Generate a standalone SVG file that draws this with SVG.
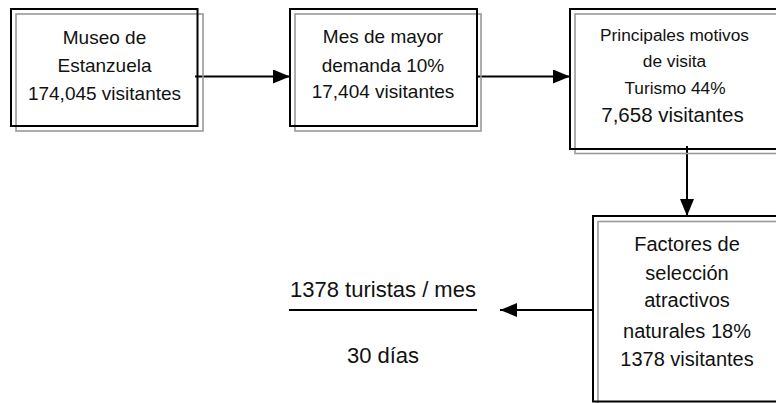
<svg xmlns="http://www.w3.org/2000/svg" width="776" height="403" viewBox="0 0 776 403">
<style>
.bg{fill:#fff}
.sh{fill:none;stroke:#999;stroke-width:1.6}
.fr{fill:none;stroke:#000;stroke-width:2}
.t{font-family:"Liberation Sans",Arial,sans-serif;fill:#111;text-anchor:middle}
.c{stroke:#000;stroke-width:2;fill:none}
</style>
<defs>
<marker id="ah" viewBox="0 0 17 14" refX="17" refY="7" markerWidth="17" markerHeight="14" markerUnits="userSpaceOnUse" orient="auto">
<path d="M0,0 L17,7 L0,14 Z" fill="#000"/>
</marker>
</defs>
<rect class="bg" x="0" y="0" width="776" height="403"/>
<g id="connectors">
<line class="c" x1="195" y1="76.5" x2="290" y2="76.5" marker-end="url(#ah)"/>
<line class="c" x1="476" y1="76.5" x2="570" y2="76.5" marker-end="url(#ah)"/>
<line class="c" x1="687" y1="146" x2="687" y2="216" marker-end="url(#ah)"/>
<line class="c" x1="593" y1="310" x2="500" y2="310" marker-end="url(#ah)"/>
</g>
<g id="museo">
<rect class="sh" x="16" y="14" width="187" height="117"/>
<rect class="fr" x="11" y="9" width="186.5" height="117"/>
<text class="t" font-size="19"><tspan x="104.5" y="43.5">Museo de</tspan><tspan x="104.5" y="72">Estanzuela</tspan><tspan x="104.5" y="100">174,045 visitantes</tspan></text>
</g>
<g id="mes">
<rect class="sh" x="295" y="14" width="186" height="117"/>
<rect class="fr" x="290" y="9" width="187" height="117"/>
<text class="t" font-size="19"><tspan x="383" y="43">Mes de mayor</tspan><tspan x="383" y="72">demanda 10%</tspan><tspan x="383" y="98">17,404 visitantes</tspan></text>
</g>
<g id="motivos">
<rect class="sh" x="575" y="14" width="210" height="139.5"/>
<rect class="fr" x="570" y="9" width="210" height="140"/>
<text class="t" font-size="17.3"><tspan x="674.5" y="41">Principales motivos</tspan><tspan x="674.5" y="67">de visita</tspan><tspan x="675" y="94">Turismo 44%</tspan></text>
<text class="t" font-size="20.5" x="672.5" y="122">7,658 visitantes</text>
</g>
<g id="factores">
<rect class="sh" x="598" y="221.5" width="190" height="190"/>
<rect class="fr" x="593" y="216" width="190" height="185.5"/>
<text class="t" font-size="20"><tspan x="687" y="251">Factores de</tspan><tspan x="687" y="280">selección</tspan><tspan x="687" y="307">atractivos</tspan><tspan x="687" y="338">naturales 18%</tspan><tspan x="687" y="366">1378 visitantes</tspan></text>
</g>
<g id="fraccion">
<text class="t" font-size="22" x="383" y="297">1378 turistas / mes</text>
<line x1="289" y1="310" x2="477" y2="310" stroke="#000" stroke-width="2"/>
<text class="t" font-size="22" x="383" y="363">30 días</text>
</g>
</svg>
